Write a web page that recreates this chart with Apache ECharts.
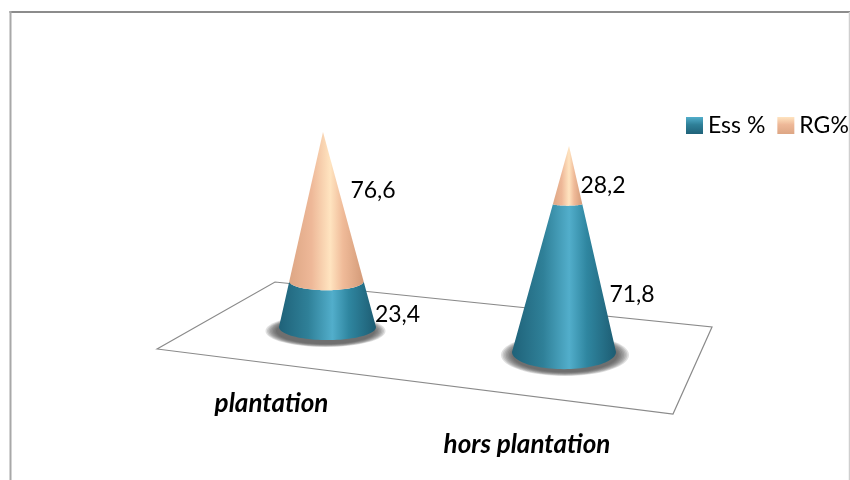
<!DOCTYPE html>
<html><head><meta charset="utf-8">
<style>html,body{margin:0;padding:0;background:#fff}#c{width:850px;height:480px}</style>
<script src="https://cdn.jsdelivr.net/npm/echarts@6/dist/echarts.min.js"></script>
</head><body><div id="c"></div>
<script>
const categories = ['plantation', 'hors plantation'];
const essValues = [23.4, 71.8];
const rgValues = [76.6, 28.2];
const seriesNames = ['Ess %', 'RG%'];
const valueLabels = [['23,4', '71,8'], ['76,6', '28,2']];

// layout of each cone (perspective view: every cone has its own plot box)
const cones = [
  {cx: 327.5, base: 327, apex: 132, rx: 48.5, tilt: -4.5, ratio: 0.27, fade: 0.5, labelPad: 112, labelMargin: 64,
   shadow: {dx: -2, dy: 4, rx: 60, ry: 16},
   labelAt: [[70, 10], [45.5, -16]]},
  {cx: 564, base: 352, apex: 146, rx: 52, tilt: 5, ratio: 0.33, fade: 0.95, labelPad: 74, labelMargin: 80,
   shadow: {dx: 1, dy: 3, rx: 64, ry: 21},
   labelAt: [[68, 17], [39, 11]]}
];
const tealStops = ['#1f6279', '#2f8098', '#52aecb', '#2f86a0', '#1d5c72'];
const peachStops = ['#dda684', '#eeb898', '#ffe4c0', '#f0bb99', '#d39a78'];

function sideGradient(stops) {
  return {type: 'linear', x: 0, y: 0, x2: 1, y2: 0, colorStops: [
    {offset: 0, color: stops[0]}, {offset: 0.3, color: stops[1]}, {offset: 0.55, color: stops[2]},
    {offset: 0.72, color: stops[3]}, {offset: 1, color: stops[4]}]};
}
function legendSwatch(stops) {
  return {type: 'linear', x: 0, y: 0, x2: 0, y2: 1, colorStops: [
    {offset: 0, color: stops[2]}, {offset: 0.45, color: stops[1]}, {offset: 1, color: stops[0]}]};
}

function renderFrustum(coneIdx, measure) {
  const cone = cones[coneIdx];
  const stopsSet = measure === 0 ? tealStops : peachStops;
  return function (params, api) {
    const from = api.value(0), to = api.value(1);
    const mid = api.coord([0, 0]);
    const halfBand = api.size([1, 0])[0] / 2;
    const ring = v => {
      const p = api.coord([0, v]);
      const k = v / 100;
      const r = halfBand * (1 - k);
      return {x: mid[0] + cone.tilt * k, y: p[1], r: r, ry: r * cone.ratio * (1 - cone.fade * k)};
    };
    const a = ring(from), b = ring(to);
    const pts = [];
    const N = 48;
    for (let i = 0; i <= N; i++) {           // front of lower rim, left to right
      const t = Math.PI - Math.PI * i / N;
      pts.push([a.x + a.r * Math.cos(t), a.y + a.ry * Math.sin(t)]);
    }
    for (let i = 0; i <= N; i++) {           // front of upper rim, right to left
      const t = Math.PI * i / N;
      pts.push([b.x + b.r * Math.cos(t), b.y + b.ry * Math.sin(t)]);
    }
    const children = [];
    if (measure === 0) {
      const s = cone.shadow;
      for (let l = 0; l < 8; l++) {          // soft ground shadow, outer rings first
        const f = 1 - l * 0.025;
        children.push({type: 'ellipse',
          shape: {cx: a.x + s.dx, cy: a.y + s.dy, rx: s.rx * f, ry: s.ry * f},
          style: {fill: 'rgba(70,70,70,0.17)'}});
      }
    }
    children.push({type: 'polygon', shape: {points: pts}, style: {fill: sideGradient(stopsSet)}});
    const la = cone.labelAt[measure];
    const mp = api.coord([0, (from + to) / 2]);
    children.push({type: 'text', x: mid[0] + la[0], y: mp[1] + la[1],
      style: {text: valueLabels[measure][coneIdx], fill: '#000', font: '23px Lato', align: 'center', verticalAlign: 'middle'}});
    return {type: 'group', children: children};
  };
}

const grids = [], xAxes = [], yAxes = [], series = [];
cones.forEach((cone, i) => {
  grids.push({left: cone.cx - cone.rx, width: cone.rx * 2, top: cone.apex, height: cone.base - cone.apex});
  xAxes.push({type: 'category', gridIndex: i, data: [categories[i]],
    axisLine: {show: false}, axisTick: {show: false}, splitLine: {show: false},
    axisLabel: {show: true, interval: 0, margin: cone.labelMargin,
      fontStyle: 'italic', fontWeight: 'bold', fontSize: 26, fontFamily: 'Lato', color: '#000',
      padding: [0, cone.labelPad, 0, 0]}});
  yAxes.push({type: 'value', gridIndex: i, min: 0, max: 100, show: false});
  const ess = essValues[i], rg = rgValues[i];
  [[0, ess], [ess, ess + rg]].forEach((range, m) => {
    series.push({
      name: seriesNames[m], type: 'custom', xAxisIndex: i, yAxisIndex: i, coordinateSystem: 'cartesian2d',
      z: 2 + m, silent: true, clip: false,
      itemStyle: {color: legendSwatch(m === 0 ? tealStops : peachStops)},
      encode: {x: -1, y: [0, 1]},
      data: [range],
      renderItem: renderFrustum(i, m)
    });
  });
});

const chart = echarts.init(document.getElementById('c'), null, {renderer: 'canvas'});
chart.setOption({
  animation: false,
  backgroundColor: '#fff',
  grid: grids, xAxis: xAxes, yAxis: yAxes, series: series,
  legend: {data: seriesNames, left: 686, top: 114, padding: 0, icon: 'rect', itemWidth: 17, itemHeight: 17, itemGap: 12,
    textStyle: {fontFamily: 'Lato', fontSize: 23, color: '#000', padding: [0, 0, 0, 0]}},
  graphic: [
    {type: 'line', z: 0, shape: {x1: 9.5, y1: 12, x2: 850, y2: 12}, style: {stroke: '#8c8c8c', lineWidth: 2}},
    {type: 'line', z: 0, shape: {x1: 10.5, y1: 11, x2: 10.5, y2: 480}, style: {stroke: '#a8a8a8', lineWidth: 2}},
    {type: 'line', z: 0, shape: {x1: 849.5, y1: 12, x2: 849.5, y2: 480}, style: {stroke: '#cfcfcf', lineWidth: 1.5}},
    {type: 'polygon', z: 0, shape: {points: [[157, 349], [275, 282], [712, 327], [673, 414]]}, style: {fill: '#fff', stroke: '#8a8a8a', lineWidth: 1.2}}
  ]
});
</script></body></html>
